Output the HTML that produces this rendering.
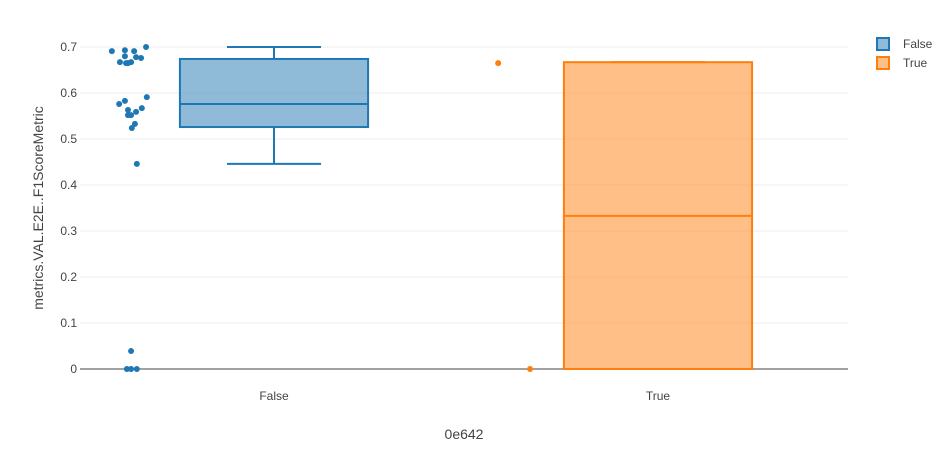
<!DOCTYPE html>
<html><head><meta charset="utf-8"><style>
body{margin:0;background:#fff;font-family:"Liberation Sans",sans-serif}
svg text{font-family:"Liberation Sans",sans-serif;fill:#444}
</style></head><body>
<svg id="c" width="951" height="466"></svg>
<script>
const categories=["False","True"];
const yTicks=[0,0.1,0.2,0.3,0.4,0.5,0.6,0.7];
const boxFalse=[0.446,0.526,0.576,0.674,0.700];
const boxTrue=[0,0,0.333,0.667,0.667];
const ptsFalse=[0.691,0.693,0.691,0.700,0.680,0.678,0.676,0.667,0.665,0.667,0.665,0.576,0.583,0.591,0.563,0.567,0.559,0.552,0.552,0.533,0.524,0.446,0.039,0,0,0];
const jitFalse=[-0.417,-0.383,-0.359,-0.328,-0.383,-0.354,-0.341,-0.396,-0.375,-0.367,-0.380,-0.398,-0.383,-0.326,-0.375,-0.339,-0.354,-0.375,-0.367,-0.357,-0.365,-0.352,-0.367,-0.378,-0.367,-0.352];
const ptsTrue=[0.665,0];
const jitTrue=[-0.411,-0.328];
const colors=["#1f77b4","#ff7f0e"];
const fills=["rgba(31,119,180,0.5)","rgba(255,127,14,0.5)"];
const svg=document.getElementById('c');const NS="http://www.w3.org/2000/svg";
const x0=80,x1=848,bw=(x1-x0)/categories.length;
const y=v=>369-460*v;
const xc=i=>x0+bw*(i+0.5);
function el(t,a,p){const e=document.createElementNS(NS,t);for(const k in a)e.setAttribute(k,a[k]);(p||svg).appendChild(e);return e;}
yTicks.forEach(t=>{
 if(t>0){const g=el('line',{x1:x0,x2:x1,y1:y(t),y2:y(t),stroke:'#eee'});}
 const tx=el('text',{x:x0-3,y:y(t)+4,'text-anchor':'end','font-size':12});tx.textContent=t===0?'0':t.toFixed(1);
 
});
const zl=el('line',{x1:x0,x2:x1,y1:y(0),y2:y(0),stroke:'#444'});

categories.forEach((c,i)=>{const t=el('text',{x:xc(i)+2,y:400,'text-anchor':'middle','font-size':12});t.textContent=c;
 });
[boxFalse,boxTrue].forEach((b,i)=>{
 const g=el('g',{});
 const cx=xc(i)+2,hw=bw*0.245,ww=hw/2;
 el('line',{x1:cx,x2:cx,y1:y(b[0]),y2:y(b[1]),stroke:colors[i],'stroke-width':2},g);
 el('line',{x1:cx,x2:cx,y1:y(b[3]),y2:y(b[4]),stroke:colors[i],'stroke-width':2},g);
 el('line',{x1:cx-ww,x2:cx+ww,y1:y(b[0]),y2:y(b[0]),stroke:colors[i],'stroke-width':2},g);
 el('line',{x1:cx-ww,x2:cx+ww,y1:y(b[4]),y2:y(b[4]),stroke:colors[i],'stroke-width':2},g);
 el('rect',{x:cx-hw,y:y(b[3]),width:2*hw,height:y(b[1])-y(b[3]),fill:fills[i],stroke:colors[i],'stroke-width':2},g);
 el('line',{x1:cx-hw,x2:cx+hw,y1:y(b[2]),y2:y(b[2]),stroke:colors[i],'stroke-width':2},g);
});
[[ptsFalse,jitFalse],[ptsTrue,jitTrue]].forEach(([p,j],i)=>{p.forEach((v,k)=>{
 const d=el('circle',{cx:xc(i)+j[k]*bw,cy:y(v),r:3,fill:colors[i]});
 });});
const yt=el('text',{x:0,y:0,'text-anchor':'middle','font-size':14,transform:'translate(43,208) rotate(-90)'});yt.textContent='metrics.VAL.E2E..F1ScoreMetric';

const xt=el('text',{x:464,y:439,'text-anchor':'middle','font-size':14});xt.textContent='0e642';

categories.forEach((c,i)=>{const g=el('g',{});
 const yy=44+i*19;el('rect',{x:877,y:yy-6,width:12,height:12,fill:fills[i],stroke:colors[i],'stroke-width':2},g);
 const t=el('text',{x:903,y:yy+4,'font-size':12},g);t.textContent=c;});
</script>
</body></html>
